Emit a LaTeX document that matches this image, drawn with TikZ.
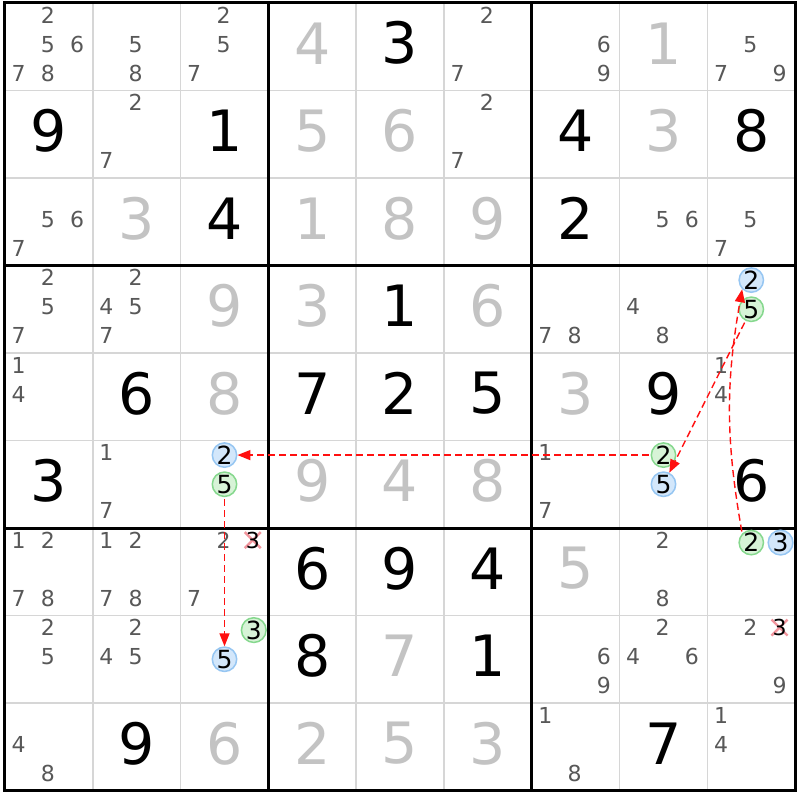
\documentclass[tikz,border=0pt]{standalone}
\usepackage{fontspec}
\setmainfont{DejaVu Sans}
\usetikzlibrary{arrows.meta}
\definecolor{solved}{HTML}{C3C3C3}
\definecolor{cand}{HTML}{585858}
\definecolor{thinline}{HTML}{D6D6D6}
\definecolor{bfill}{HTML}{D3E7FB}
\definecolor{bline}{HTML}{96C6F2}
\definecolor{gfill}{HTML}{D7F3D7}
\definecolor{gline}{HTML}{86D88E}
\definecolor{xred}{HTML}{F2969E}
\definecolor{linkred}{HTML}{FF1010}
\begin{document}
\begin{tikzpicture}[x=87.8pt,y=87.5pt,
  big/.style={font=\fontsize{57}{57}\selectfont, inner sep=0pt, yshift=3.5pt},
  givenD/.style={big, text=black},
  solvedD/.style={big, text=solved},
  candD/.style={font=\fontsize{22}{22}\selectfont, inner sep=0pt, text=cand, xshift=-1pt, yshift=2.5pt},
  crossD/.style={font=\fontsize{22}{22}\selectfont, inner sep=0pt, text=black, xshift=-1pt, yshift=2.5pt},
  xmark/.style={draw=xred, line width=2.4pt},
  circ/.style={circle, line width=1.5pt, minimum size=23pt, inner sep=0pt, font=\fontsize{25}{25}\selectfont, text=black},
  blueC/.style={circ, draw=bline, fill=bfill},
  greenC/.style={circ, draw=gline, fill=gfill},
  link/.style={draw=linkred, line width=1.4pt, dash pattern=on 7pt off 4pt, -{Triangle[length=13pt,width=10pt]}, shorten <=2pt},
  thingrid/.style={draw=thinline, line width=1.6pt},
  thickgrid/.style={draw=black, line width=3pt}
]
\useasboundingbox (-5pt,3pt) rectangle (795pt,-797pt);
\fill[white] (-5pt,3pt) rectangle (795pt,-797pt);
% grid
\foreach \i in {1,2,4,5,7,8} {
  \draw[thingrid] (\i,0) -- (\i,-9);
  \draw[thingrid] (0,-\i) -- (9,-\i);
}
\foreach \i in {0,3,6,9} {
  \draw[thickgrid] (\i,0) -- (\i,-9);
  \draw[thickgrid] (0,-\i) -- (9,-\i);
}
\draw[thickgrid, line cap=rect] (0,0) rectangle (9,-9);
% given digits
\foreach \r/\c/\d in {1/5/3, 2/1/9, 2/3/1, 2/7/4, 2/9/8, 3/3/4, 3/7/2, 4/5/1, 5/2/6, 5/4/7, 5/5/2, 5/6/5, 5/8/9, 6/1/3, 6/9/6, 7/4/6, 7/5/9, 7/6/4, 8/4/8, 8/6/1, 9/2/9, 9/8/7}
  \node[givenD] (g\r\c) at ({\c-0.5},{0.5-\r}) {\d};
% solved digits
\foreach \r/\c/\d in {1/4/4, 1/8/1, 2/4/5, 2/5/6, 2/8/3, 3/2/3, 3/4/1, 3/5/8, 3/6/9, 4/3/9, 4/4/3, 4/6/6, 5/3/8, 5/7/3, 6/4/9, 6/5/4, 6/6/8, 7/7/5, 8/5/7, 9/3/6, 9/4/2, 9/5/5, 9/6/3}
  \node[solvedD] (s\r\c) at ({\c-0.5},{0.5-\r}) {\d};
% candidates
\foreach \r/\c/\L in {1/1/{2,5,6,7,8}, 1/2/{5,8}, 1/3/{2,5,7}, 1/6/{2,7}, 1/7/{6,9}, 1/9/{5,7,9},
  2/2/{2,7}, 2/6/{2,7}, 3/1/{5,6,7}, 3/8/{5,6}, 3/9/{5,7},
  4/1/{2,5,7}, 4/2/{2,4,5,7}, 4/7/{7,8}, 4/8/{4,8}, 5/1/{1,4}, 5/9/{1,4},
  6/2/{1,7}, 6/7/{1,7}, 7/1/{1,2,7,8}, 7/2/{1,2,7,8}, 7/3/{2,7}, 7/8/{2,8},
  8/1/{2,5}, 8/2/{2,4,5}, 8/7/{6,9}, 8/8/{2,4,6}, 8/9/{2,9},
  9/1/{4,8}, 9/7/{1,8}, 9/9/{1,4}} {
  \foreach \n in \L {
    \pgfmathtruncatemacro\kx{mod(\n-1,3)}
    \pgfmathtruncatemacro\jy{(\n-1)/3}
    \node[candD] (k\r\c n\n) at ({\c-1+(2*\kx+1)/6},{-(\r-1)-(2*\jy+1)/6}) {\n};
  }
}
% eliminated candidates
\coordinate (x73) at ({3-1+5/6},{-6-1/6});
\coordinate (x89) at ({9-1+5/6},{-7-1/6});
\foreach \p in {x73,x89} {
  \draw[xmark] ([xshift=-1pt,yshift=2.5pt]\p) +(-8pt,-8pt) -- +(8pt,8pt);
  \draw[xmark] ([xshift=-1pt,yshift=2.5pt]\p) +(-8pt,8pt) -- +(8pt,-8pt);
}
\node[crossD] (e73) at (x73) {3};
\node[crossD] (e89) at (x89) {3};
% circled candidates
\node[blueC]  (r4c9n2) at ({8+3/6},{-3-1/6}) {2};
\node[greenC] (r4c9n5) at ({8+3/6},{-3-3/6}) {5};
\node[blueC]  (r6c3n2) at ({2+3/6},{-5-1/6}) {2};
\node[greenC] (r6c3n5) at ({2+3/6},{-5-3/6}) {5};
\node[greenC] (r6c8n2) at ({7+3/6},{-5-1/6}) {2};
\node[blueC]  (r6c8n5) at ({7+3/6},{-5-3/6}) {5};
\node[greenC] (r7c9n2) at ({8+3/6},{-6-1/6}) {2};
\node[blueC]  (r7c9n3) at ({8+5/6},{-6-1/6}) {3};
\node[greenC] (r8c3n3) at ({2+5/6},{-7-1/6}) {3};
\node[blueC]  (r8c3n5) at ({2+3/6},{-7-3/6}) {5};
% links
\draw[link] (r6c8n2) -- (r6c3n2);
\draw[link] (r4c9n5) -- (r6c8n5);
\draw[link] (r7c9n2.135) to[out=100,in=-100] (r4c9n2.225);
\draw[link] (r6c3n5) -- (r8c3n5);
\end{tikzpicture}
\end{document}
